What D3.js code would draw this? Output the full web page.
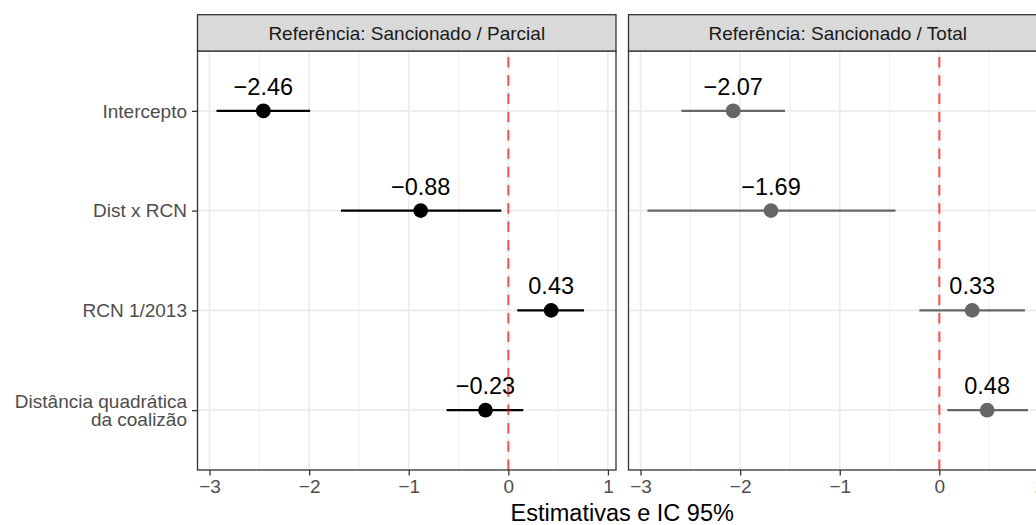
<!DOCTYPE html>
<html>
<head>
<meta charset="utf-8">
<script src="https://cdn.jsdelivr.net/npm/d3@7"></script>
<style>
  html, body { margin: 0; padding: 0; background: #fff; }
  svg { display: block; }
  text { font-family: "Liberation Sans", Arial, Helvetica, sans-serif; }
</style>
</head>
<body>
<svg id="chart" width="1036" height="525"></svg>
<script>
// ---- data ----
const categories = ["Intercepto", "Dist x RCN", "RCN 1/2013", "Distância quadrática\nda coalizão"];
const panels = ["Referência: Sancionado / Parcial", "Referência: Sancionado / Total"];
const estParcial = [-2.46, -0.88, 0.43, -0.23];
const lowParcial = [-2.93, -1.68, 0.09, -0.62];
const highParcial = [-1.99, -0.07, 0.76, 0.15];
const estTotal = [-2.07, -1.69, 0.33, 0.48];
const lowTotal = [-2.59, -2.93, -0.20, 0.08];
const highTotal = [-1.55, -0.44, 0.86, 0.89];
const xTicks = [-3, -2, -1, 0, 1];
const xMinor = [-2.5, -1.5, -0.5, 0.5];
const xTitle = "Estimativas e IC 95%";

// ---- layout ----
const svg = d3.select("#chart");
const stripTop = 14.7, stripBottom = 51, panelBottom = 470;
const panelX = [[197.5, 616], [628.5, 1047]];
const panelColors = ["#000000", "#666666"];
const series = [
  { est: estParcial, lo: lowParcial, hi: highParcial },
  { est: estTotal, lo: lowTotal, hi: highTotal }
];

const allLo = d3.min([...lowParcial, ...lowTotal]);
const allHi = d3.max([...highParcial, ...highTotal]);
const pad = (allHi - allLo) * 0.05;
const domain = [allLo - pad, allHi + pad];

const y = d3.scalePoint().domain(categories).range([stripBottom, panelBottom]).padding(0.6);

panels.forEach((title, pi) => {
  const [x0, x1] = panelX[pi];
  const x = d3.scaleLinear().domain(domain).range([x0, x1]);
  const g = svg.append("g");
  const s = series[pi];

  // panel background
  g.append("rect").attr("x", x0).attr("y", stripBottom).attr("width", x1 - x0)
    .attr("height", panelBottom - stripBottom).attr("fill", "#fff");

  // minor grid
  g.selectAll(".minor").data(xMinor).enter().append("line")
    .attr("x1", d => x(d)).attr("x2", d => x(d))
    .attr("y1", stripBottom).attr("y2", panelBottom)
    .attr("stroke", "#EBEBEB").attr("stroke-width", 0.8);
  // major grid
  g.selectAll(".majorx").data(xTicks).enter().append("line")
    .attr("x1", d => x(d)).attr("x2", d => x(d))
    .attr("y1", stripBottom).attr("y2", panelBottom)
    .attr("stroke", "#EBEBEB").attr("stroke-width", 1.6);
  g.selectAll(".majory").data(categories).enter().append("line")
    .attr("x1", x0).attr("x2", x1)
    .attr("y1", d => y(d)).attr("y2", d => y(d))
    .attr("stroke", "#EBEBEB").attr("stroke-width", 1.6);

  const rows = categories.map((c, i) => ({ c, est: s.est[i], lo: s.lo[i], hi: s.hi[i] }));

  // CI lines
  g.selectAll(".ci").data(rows).enter().append("line")
    .attr("x1", d => x(d.lo)).attr("x2", d => x(d.hi))
    .attr("y1", d => y(d.c)).attr("y2", d => y(d.c))
    .attr("stroke", panelColors[pi]).attr("stroke-width", 2.3);
  // points
  g.selectAll(".pt").data(rows).enter().append("circle")
    .attr("cx", d => x(d.est)).attr("cy", d => y(d.c)).attr("r", 7.4)
    .attr("fill", panelColors[pi]);
  // labels
  g.selectAll(".lab").data(rows).enter().append("text")
    .attr("x", d => x(d.est)).attr("y", d => y(d.c) - 16)
    .attr("text-anchor", "middle").attr("font-size", 23.5).attr("fill", "#000")
    .text(d => d3.format(".2f")(d.est));

  // zero reference line (on top)
  g.append("line")
    .attr("x1", x(0)).attr("x2", x(0))
    .attr("y1", panelBottom).attr("y2", stripBottom)
    .attr("stroke", "#FF0000").attr("stroke-opacity", 0.62)
    .attr("stroke-width", 2.2).attr("stroke-dasharray", "10.5,7.8");

  // panel border
  g.append("rect").attr("x", x0).attr("y", stripBottom).attr("width", x1 - x0)
    .attr("height", panelBottom - stripBottom).attr("fill", "none")
    .attr("stroke", "#333333").attr("stroke-width", 1.3);

  // strip
  g.append("rect").attr("x", x0).attr("y", stripTop).attr("width", x1 - x0)
    .attr("height", stripBottom - stripTop).attr("fill", "#D9D9D9")
    .attr("stroke", "#333333").attr("stroke-width", 1.3);
  g.append("text").attr("x", (x0 + x1) / 2).attr("y", (stripTop + stripBottom) / 2 + 6.8)
    .attr("text-anchor", "middle").attr("font-size", 19).attr("fill", "#1A1A1A")
    .text(title);

  // x axis
  const ax = d3.axisBottom(x).tickValues(xTicks).tickFormat(d3.format("d"))
    .tickSize(5.5).tickPadding(4.5);
  const axg = g.append("g").attr("transform", `translate(0,${panelBottom})`).call(ax);
  axg.select(".domain").remove();
  axg.selectAll(".tick line").attr("stroke", "#333333").attr("stroke-width", 1.3);
  axg.selectAll(".tick text").attr("font-size", 19).attr("fill", "#4D4D4D")
    .attr("font-family", "Liberation Sans, Arial, sans-serif");

  // y axis (left panel only)
  if (pi === 0) {
    const ay = d3.axisLeft(y).tickSize(5.5).tickPadding(4.6).tickFormat("");
    const ayg = g.append("g").attr("transform", `translate(${x0},0)`).call(ay);
    ayg.select(".domain").remove();
    ayg.selectAll(".tick line").attr("stroke", "#333333").attr("stroke-width", 1.3);
    ayg.selectAll(".tick text").remove();
    categories.forEach(c => {
      const lines = c.split("\n");
      const t = g.append("text").attr("text-anchor", "end").attr("font-size", 19)
        .attr("fill", "#4D4D4D");
      const lh = 18;
      const firstBase = y(c) + 6.8 - (lines.length - 1) * lh / 2;
      lines.forEach((ln, li) => {
        t.append("tspan").attr("x", x0 - 10.5).attr("y", firstBase + li * lh).text(ln);
      });
    });
  }
});

// x axis title
svg.append("text").attr("x", (panelX[0][0] + panelX[1][1]) / 2).attr("y", 521)
  .attr("text-anchor", "middle").attr("font-size", 23.5).attr("fill", "#000")
  .text(xTitle);
</script>
</body>
</html>
